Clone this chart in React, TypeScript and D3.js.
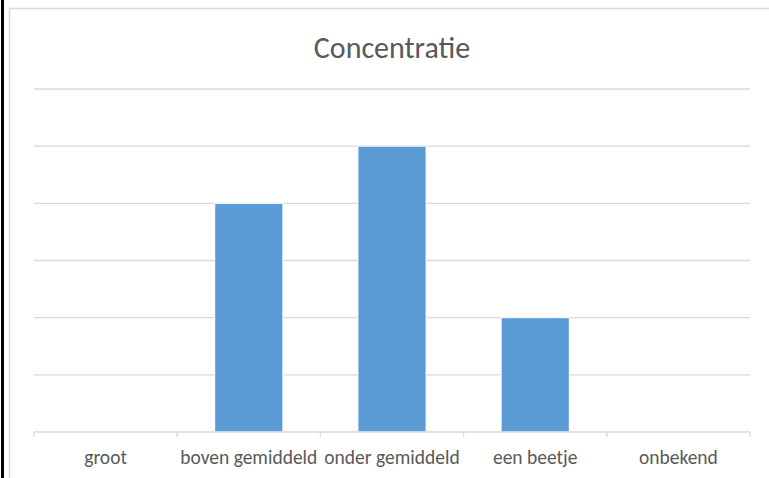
import React, { useEffect, useRef } from "react";
import * as d3 from "d3";

const categories = ["groot", "boven gemiddeld", "onder gemiddeld", "een beetje", "onbekend"];
const values = [0, 4, 5, 2, 0];
const yTicks = [0, 1, 2, 3, 4, 5, 6];
const title = "Concentratie";

const App = () => {
  const svgRef = useRef<SVGSVGElement>(null);
  const width = 769;
  const height = 478;

  useEffect(() => {
    const svg = d3.select(svgRef.current);
    svg.selectAll("*").remove();

    const font = "Carlito, Calibri, Lato, 'Open Sans', sans-serif";

    svg.append("rect").attr("width", width).attr("height", height).attr("fill", "#fff");

    // page edge and chart frame
    svg.append("rect").attr("x", 1).attr("y", 0).attr("width", 3).attr("height", height).attr("fill", "#000");
    svg
      .append("rect")
      .attr("x", 9.5)
      .attr("y", 8.5)
      .attr("width", width + 20)
      .attr("height", height + 20)
      .attr("fill", "none")
      .attr("stroke", "#d9d9d9")
      .attr("stroke-width", 1.5);

    const x = d3.scaleBand().domain(categories).range([34, 750]).paddingInner(0).paddingOuter(0);
    const y = d3.scaleLinear().domain([0, 6]).range([432, 89]);

    svg
      .append("g")
      .selectAll("line")
      .data(yTicks.filter((t) => t > 0))
      .enter()
      .append("line")
      .attr("x1", 34)
      .attr("x2", 750)
      .attr("y1", (d) => y(d))
      .attr("y2", (d) => y(d))
      .attr("stroke", "#d9d9d9")
      .attr("stroke-width", 1.3);

    const bw = x.bandwidth() / 2.1;
    svg
      .append("g")
      .selectAll("rect")
      .data(values.map((v, i) => ({ cat: categories[i], v })).filter((d) => d.v > 0))
      .enter()
      .append("rect")
      .attr("x", (d) => (x(d.cat) as number) + (x.bandwidth() - bw) / 2)
      .attr("y", (d) => y(d.v))
      .attr("width", bw)
      .attr("height", (d) => y(0) - y(d.v))
      .attr("fill", "#5b9bd5")
      .attr("stroke", "#fff")
      .attr("stroke-width", 1);

    const axis = svg.append("g");
    axis
      .append("line")
      .attr("x1", 34)
      .attr("x2", 750)
      .attr("y1", y(0))
      .attr("y2", y(0))
      .attr("stroke", "#d9d9d9")
      .attr("stroke-width", 1.3);
    const bounds = categories.map((c) => x(c) as number).concat([750]);
    axis
      .selectAll("line.tick")
      .data(bounds)
      .enter()
      .append("line")
      .attr("class", "tick")
      .attr("x1", (d) => d)
      .attr("x2", (d) => d)
      .attr("y1", y(0))
      .attr("y2", y(0) + 5)
      .attr("stroke", "#d9d9d9")
      .attr("stroke-width", 1.3);

    axis
      .selectAll("text")
      .data(categories)
      .enter()
      .append("text")
      .attr("x", (d) => (x(d) as number) + x.bandwidth() / 2)
      .attr("y", 464)
      .attr("text-anchor", "middle")
      .attr("font-family", font)
      .attr("font-size", 19.5)
      .attr("fill", "#595959")
      .text((d) => d);

    svg
      .append("text")
      .attr("x", 392)
      .attr("y", 58)
      .attr("text-anchor", "middle")
      .attr("font-family", font)
      .attr("font-size", 30)
      .attr("fill", "#595959")
      .text(title);
  }, []);

  return (
    <svg
      ref={svgRef}
      width={width}
      height={height}
      style={{ position: "absolute", left: 0, top: 0, display: "block" }}
    />
  );
};

export default App;
